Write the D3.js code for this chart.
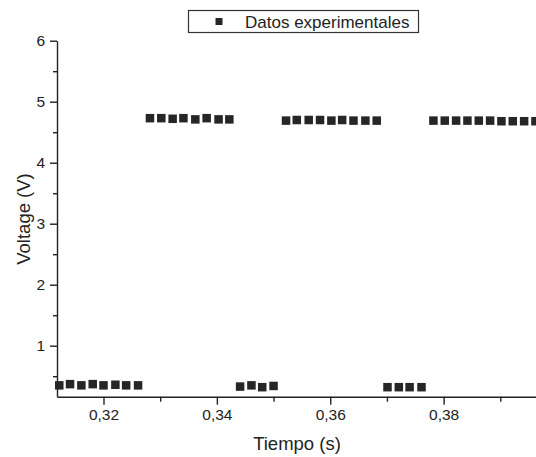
<!DOCTYPE html>
<html>
<head>
<meta charset="utf-8">
<script src="https://cdn.jsdelivr.net/npm/d3@7"></script>
<style>
    body { margin: 0; background: #fff; }
    svg { display: block; }
    text { font-family: "Liberation Sans", Arial, sans-serif; fill: #222; }
    .axis path, .axis line { stroke: #222; stroke-width: 1.4; }
</style>
</head>
<body>
<div id="chart"></div>
<script>
// Datos experimentales: tiempo (s) y voltaje (V)
var tiempo = [
    0.3122, 0.3141, 0.3161, 0.3181, 0.3200, 0.3221, 0.3240, 0.3261,
    0.3282, 0.3302, 0.3322, 0.3341, 0.3362, 0.3382, 0.3403, 0.3422,
    0.3441, 0.3461, 0.3480, 0.3500,
    0.3522, 0.3541, 0.3562, 0.3582, 0.3602, 0.3621, 0.3641, 0.3662, 0.3682,
    0.3701, 0.3721, 0.3740, 0.3761,
    0.3782, 0.3802, 0.3822, 0.3842, 0.3862, 0.3882, 0.3902, 0.3922, 0.3942, 0.3962
];
var voltaje = [
    0.35, 0.37, 0.35, 0.37, 0.35, 0.36, 0.35, 0.35,
    4.73, 4.73, 4.72, 4.73, 4.71, 4.73, 4.71, 4.71,
    0.33, 0.35, 0.32, 0.34,
    4.69, 4.70, 4.70, 4.70, 4.69, 4.70, 4.69, 4.69, 4.69,
    0.32, 0.32, 0.32, 0.32,
    4.69, 4.69, 4.69, 4.69, 4.69, 4.69, 4.68, 4.68, 4.68, 4.68
];
var xMajor = [0.32, 0.34, 0.36, 0.38];
var xMinor = [0.33, 0.35, 0.37, 0.39];
var yMajor = [1, 2, 3, 4, 5, 6];
var yMinor = [0.5, 1.5, 2.5, 3.5, 4.5, 5.5];
var legendLabel = "Datos experimentales";
var xTitle = "Tiempo (s)";
var yTitle = "Voltage (V)";

var data = tiempo.map(function(t, i) { return { t: t, v: voltaje[i] }; });

var width = 536, height = 457;

var svg = d3.select("#chart").append("svg")
    .attr("width", width)
    .attr("height", height);

var x = d3.scaleLinear()
    .domain([0.3118, 0.40])
    .range([57, 557]);

var y = d3.scaleLinear()
    .domain([0.164, 6])
    .range([396.7, 40.7]);

var es = d3.formatLocale({ decimal: ",", thousands: ".", grouping: [3], currency: ["", "€"] });
var fmtX = es.format(".2f");

// minor ticks
svg.append("g")
    .attr("class", "axis")
    .attr("transform", "translate(0," + y.range()[0] + ")")
    .call(d3.axisBottom(x).tickValues(xMinor).tickSize(5).tickFormat(""))
    .select(".domain").remove();

svg.append("g")
    .attr("class", "axis")
    .attr("transform", "translate(" + x.range()[0] + ",0)")
    .call(d3.axisLeft(y).tickValues(yMinor).tickSize(4).tickFormat(""))
    .select(".domain").remove();

// major axes
var xG = svg.append("g")
    .attr("class", "axis")
    .attr("transform", "translate(0," + y.range()[0] + ")")
    .call(d3.axisBottom(x).tickValues(xMajor).tickSize(8).tickSizeOuter(0).tickPadding(4).tickFormat(fmtX));
xG.selectAll("text").style("font-size", "15.5px").attr("fill", "#222");

var yG = svg.append("g")
    .attr("class", "axis")
    .attr("transform", "translate(" + x.range()[0] + ",0)")
    .call(d3.axisLeft(y).tickValues(yMajor).tickSize(7).tickSizeOuter(0).tickPadding(5).tickFormat(d3.format("d")));
yG.selectAll("text").style("font-size", "15.5px").attr("fill", "#222");

// axis titles
svg.append("text")
    .attr("x", 297)
    .attr("y", 450)
    .attr("text-anchor", "middle")
    .style("font-size", "18.5px")
    .text(xTitle);

svg.append("text")
    .attr("transform", "translate(30,219) rotate(-90)")
    .attr("text-anchor", "middle")
    .style("font-size", "18.5px")
    .text(yTitle);

// points
var sz = 8.5;
svg.append("g").selectAll("rect")
    .data(data)
    .enter().append("rect")
    .attr("x", function(d) { return x(d.t) - sz / 2; })
    .attr("y", function(d) { return y(d.v) - sz / 2; })
    .attr("width", sz)
    .attr("height", sz)
    .attr("fill", "#262626");

// legend
var leg = svg.append("g");
leg.append("rect")
    .attr("x", 188.5).attr("y", 10.5)
    .attr("width", 230).attr("height", 22)
    .attr("fill", "none")
    .attr("stroke", "#333")
    .attr("stroke-width", 1.2);
leg.append("rect")
    .attr("x", 215.5).attr("y", 18)
    .attr("width", 7).attr("height", 7)
    .attr("fill", "#262626");
leg.append("text")
    .attr("x", 245)
    .attr("y", 27.5)
    .style("font-size", "17px")
    .text(legendLabel);
</script>
</body>
</html>
